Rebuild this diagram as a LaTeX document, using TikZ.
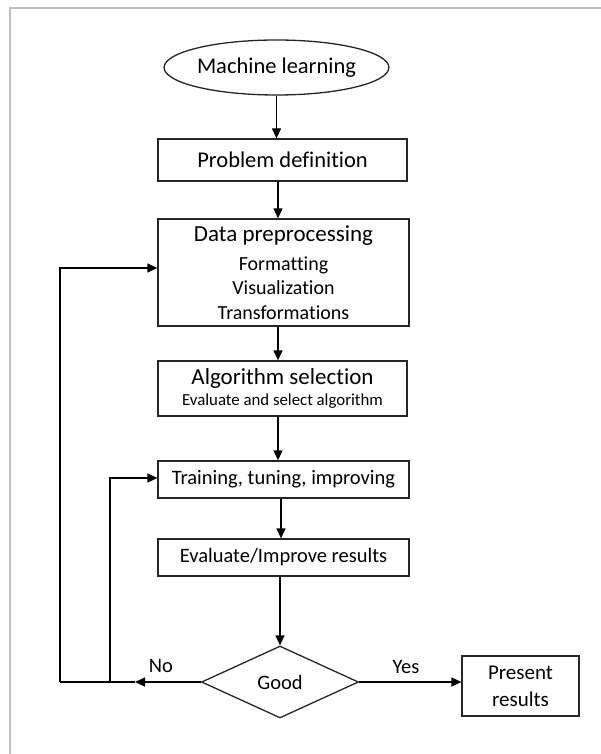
\documentclass[tikz,border=0pt]{standalone}
\usepackage{fontspec}
\setmainfont{Carlito}[Ligatures=NoCommon]
\usetikzlibrary{shapes.geometric,arrows.meta,calc}
\begin{document}
\begin{tikzpicture}[x=1pt,y=-1pt,
  box/.style={draw=black!85, line width=1.3pt, rectangle, inner sep=0pt, align=center, text=black},
  arr/.style={draw=black, line width=1.3pt, -{Triangle[length=10pt,width=9pt]}},
  ln/.style={draw=black, line width=1.3pt},
  big/.style={font=\fontsize{22.5}{27}\selectfont},
  mid/.style={font=\fontsize{20.5}{24.5}\selectfont},
  lbl/.style={font=\fontsize{20.5}{24.5}\selectfont, inner sep=0pt}]
\useasboundingbox (0,0) rectangle (601,754);
\fill[white] (0,0) rectangle (601,754);
\draw[black!25, line width=2pt] (9.5,754) -- (9.5,8.5) -- (601,8.5);

\node[ellipse, draw=black!85, line width=1.3pt, minimum width=223pt, minimum height=55pt, inner sep=0pt, big] (ml) at (276.5,67.5) {Machine learning};
\node[box, big, minimum width=249pt, minimum height=42pt] (pd) at (282.5,160) {Problem definition};
\node[box, font=\fontsize{20}{24.5}\selectfont, minimum width=251pt, minimum height=107pt] (dp) at (283.5,272.5)
  {{\fontsize{23}{28}\selectfont Data preprocessing}\\[4.5pt] Formatting\\ Visualization\\ Transformations};
\node[box, font=\fontsize{16.8}{20}\selectfont, minimum width=249pt, minimum height=55pt] (as) at (282.5,388.5)
  {\raisebox{-2pt}{\fontsize{23}{28}\selectfont Algorithm selection}\\[1.5pt] \raisebox{-2pt}{Evaluate and select algorithm}};
\node[box, mid, minimum width=251pt, minimum height=37pt] (tr) at (283.5,479.5) {Training, tuning, improving};
\node[box, mid, minimum width=251pt, minimum height=37pt] (ev) at (283.5,557.5) {Evaluate/Improve results};
\node[diamond, draw=black!85, line width=1.3pt, aspect=2.18, minimum width=157pt, minimum height=72pt, inner sep=0pt, mid] (good) at (280,682) {Good};
\node[box, font=\fontsize{21}{27}\selectfont, minimum width=117pt, minimum height=60pt] (pr) at (520.5,686) {Present\\ results};

\draw[arr] (ml.south) -- (ml.south |- pd.north);
\draw[arr] ([xshift=-4.5pt]pd.south) -- ([xshift=-4.5pt]pd.south |- dp.north);
\draw[arr] ([xshift=-5.5pt]dp.south) -- ([xshift=-5.5pt]dp.south |- as.north);
\draw[arr] ([xshift=-4.5pt]as.south) -- ([xshift=-4.5pt]as.south |- tr.north);
\draw[arr] ([xshift=-2.5pt]tr.south) -- ([xshift=-2.5pt]tr.south |- ev.north);
\draw[arr] (good.north |- ev.south) -- (good.north);

\coordinate (noarr) at (135,682);
\coordinate (outer) at (60,682);
\coordinate (inner) at (110,682);
\draw[arr] (good.west) -- (noarr);
\draw[ln] (noarr) -- (outer);
\draw[arr] (outer) |- ([yshift=4.5pt]dp.west);
\draw[arr] (inner) |- ([yshift=1.5pt]tr.west);
\draw[arr] (good.east) -- (pr.west |- good.east);

\node[lbl] (no) at (161,666) {No};
\node[lbl] (yes) at (406,667) {Yes};
\end{tikzpicture}
\end{document}
